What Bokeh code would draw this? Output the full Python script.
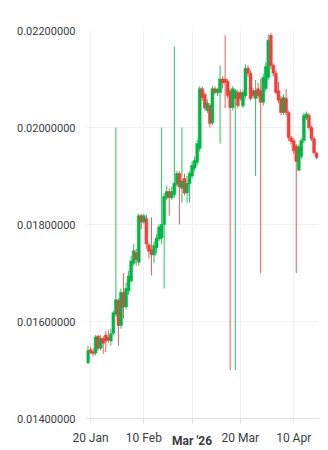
import pandas as pd
from bokeh.plotting import figure
from bokeh.models import ColumnDataSource, Range1d, FixedTicker, DatetimeAxis
from bokeh.embed import file_html
from bokeh.resources import INLINE

start_date = "2026-01-19"

opens = [
    0.01515, 0.01542, 0.01538, 0.01535, 0.01570, 0.01545, 0.01565, 0.01572, 0.01568, 0.01560,
    0.01576, 0.01615, 0.01643, 0.01592, 0.01660, 0.01630, 0.01663, 0.01684, 0.01720, 0.01742,
    0.01722, 0.01818, 0.01805, 0.01812, 0.01758, 0.01748, 0.01737, 0.01752, 0.01770, 0.01772,
    0.01800, 0.01855, 0.01868, 0.01855, 0.01862, 0.01883, 0.01905, 0.01875, 0.01895, 0.01865,
    0.01884, 0.01900, 0.01916, 0.01928, 0.01957, 0.02080, 0.02068, 0.02035, 0.02045, 0.02010,
    0.02080, 0.02072, 0.02072, 0.02100, 0.02100, 0.02095, 0.02076, 0.02041, 0.02060, 0.02072,
    0.02072, 0.02045, 0.02066, 0.02122, 0.02112, 0.02076, 0.02060, 0.02080, 0.02076, 0.02052,
    0.02080, 0.02103, 0.02190, 0.02128, 0.02112, 0.02076, 0.02060, 0.02031, 0.02060, 0.02031,
    0.01979, 0.01973, 0.01962, 0.01912, 0.01940, 0.01973, 0.02020, 0.02025, 0.02000, 0.01977,
    0.01947,
]
closes = [
    0.01540, 0.01536, 0.01534, 0.01568, 0.01545, 0.01565, 0.01555, 0.01560, 0.01562, 0.01575,
    0.01618, 0.01645, 0.01592, 0.01660, 0.01630, 0.01668, 0.01694, 0.01725, 0.01746, 0.01728,
    0.01818, 0.01805, 0.01818, 0.01760, 0.01745, 0.01738, 0.01757, 0.01772, 0.01795, 0.01800,
    0.01858, 0.01868, 0.01855, 0.01868, 0.01885, 0.01905, 0.01878, 0.01890, 0.01865, 0.01885,
    0.01905, 0.01922, 0.01932, 0.01967, 0.02080, 0.02062, 0.02040, 0.02050, 0.02008, 0.02080,
    0.02072, 0.02078, 0.02100, 0.02092, 0.02093, 0.02066, 0.02041, 0.02080, 0.02076, 0.02045,
    0.02060, 0.02072, 0.02122, 0.02112, 0.02060, 0.02066, 0.02076, 0.02066, 0.02052, 0.02103,
    0.02126, 0.02180, 0.02128, 0.02112, 0.02072, 0.02056, 0.02031, 0.02062, 0.02031, 0.01979,
    0.01971, 0.01952, 0.01930, 0.01960, 0.01973, 0.02025, 0.02028, 0.02000, 0.01977, 0.01948,
    0.01938,
]
highs = [
    0.01550, 0.01548, 0.01545, 0.01572, 0.01572, 0.01572, 0.01570, 0.01580, 0.01583, 0.01585,
    0.01622, 0.02000, 0.01648, 0.01668, 0.01700, 0.01680, 0.01705, 0.01735, 0.01760, 0.01750,
    0.01822, 0.01822, 0.01822, 0.01820, 0.01762, 0.01815, 0.01765, 0.01780, 0.01800, 0.02000,
    0.01865, 0.01880, 0.01875, 0.01878, 0.02167, 0.01910, 0.01910, 0.02000, 0.01905, 0.01900,
    0.01910, 0.01930, 0.01940, 0.01975, 0.02085, 0.02085, 0.02072, 0.02058, 0.02050, 0.02085,
    0.02085, 0.02082, 0.02128, 0.02105, 0.02190, 0.02100, 0.02080, 0.02085, 0.02080, 0.02078,
    0.02078, 0.02078, 0.02130, 0.02128, 0.02118, 0.02082, 0.02098, 0.02092, 0.02100, 0.02110,
    0.02135, 0.02192, 0.02195, 0.02132, 0.02118, 0.02094, 0.02065, 0.02068, 0.02080, 0.02035,
    0.01983, 0.01978, 0.01966, 0.01965, 0.01978, 0.02030, 0.02033, 0.02030, 0.02004, 0.01980,
    0.01950,
]
lows = [
    0.01512, 0.01533, 0.01528, 0.01530, 0.01540, 0.01540, 0.01533, 0.01537, 0.01555, 0.01550,
    0.01572, 0.01610, 0.01550, 0.01585, 0.01606, 0.01625, 0.01655, 0.01680, 0.01715, 0.01715,
    0.01715, 0.01790, 0.01800, 0.01750, 0.01730, 0.01695, 0.01720, 0.01740, 0.01765, 0.01760,
    0.01668, 0.01850, 0.01818, 0.01850, 0.01855, 0.01878, 0.01800, 0.01845, 0.01860, 0.01845,
    0.01845, 0.01895, 0.01910, 0.01922, 0.01950, 0.02055, 0.02035, 0.02030, 0.02000, 0.02005,
    0.02068, 0.02065, 0.01967, 0.02080, 0.02040, 0.02060, 0.01500, 0.02035, 0.01500, 0.02040,
    0.02055, 0.02040, 0.02060, 0.02105, 0.02055, 0.02060, 0.01900, 0.02060, 0.01700, 0.02045,
    0.02075, 0.02098, 0.02120, 0.02105, 0.02068, 0.02050, 0.02025, 0.02026, 0.02025, 0.01972,
    0.01965, 0.01945, 0.01700, 0.01911, 0.01935, 0.01968, 0.02015, 0.01995, 0.01972, 0.01945,
    0.01935,
]

y_ticks = [0.014, 0.016, 0.018, 0.020, 0.022]
x_tick_dates = ["2026-01-20", "2026-02-10", "2026-03-01", "2026-03-20", "2026-04-10"]
x_tick_labels = ["20 Jan", "10 Feb", "", "20 Mar", "10 Apr"]
bold_label_date = "2026-03-01"
bold_label_text = "Mar '26"

UP = "#00B746"
DOWN = "#EF403C"

dates = pd.date_range(start_date, periods=len(opens), freq="D")
df = pd.DataFrame({"date": dates, "open": opens, "close": closes, "high": highs, "low": lows})
df["top"] = df[["open", "close"]].max(axis=1)
df["bottom"] = df[["open", "close"]].min(axis=1)
df["color"] = [UP if c >= o else DOWN for o, c in zip(df["open"], df["close"])]
src = ColumnDataSource(df)

def ms(s):
    return pd.Timestamp(s).value // 10**6

day = 86400000
y0, y1 = 0.014, 0.022
p = figure(width=328, height=450, x_axis_type="datetime",
           output_backend="svg", toolbar_location=None,
           x_range=Range1d(ms("2026-01-18") + int(0.42 * day), ms("2026-04-19") + int(0.76 * day)),
           y_range=Range1d(y0, y1))
p.min_border_left = 86
p.min_border_right = 10
p.min_border_top = 30
p.min_border_bottom = 32
p.outline_line_color = None
p.background_fill_color = "white"

p.segment(x0="date", y0="low", x1="date", y1="high", color="color", line_width=1,
          line_alpha=0.85, source=src)
p.vbar(x="date", top="top", bottom="bottom", width=1.15 * day, fill_color="color",
       line_color="color", line_width=0.5, source=src)

tick_ms = [ms(d) for d in x_tick_dates]
p.xaxis.ticker = FixedTicker(ticks=tick_ms)
p.xaxis.major_label_overrides = {t: lab for t, lab in zip(tick_ms, x_tick_labels)}
p.xaxis.minor_tick_line_color = None
p.xaxis.axis_line_color = "#e0e0e0"
p.xaxis.major_tick_line_color = "#e0e0e0"
p.xaxis.major_tick_out = 5
p.xaxis.major_tick_in = 0
p.xaxis.major_label_standoff = 7
p.xaxis.major_label_text_font = "Roboto"
p.xaxis.major_label_text_font_size = "12px"
p.xaxis.major_label_text_color = "#373d3f"

# second axis carrying the bold month label, pulled up onto the same row
bold_ms = ms(bold_label_date)
bold_axis = DatetimeAxis(ticker=FixedTicker(ticks=[bold_ms]),
                         major_label_overrides={bold_ms: bold_label_text},
                         axis_line_color=None, major_tick_line_color=None,
                         minor_tick_line_color=None, major_tick_out=0, major_tick_in=0,
                         major_label_standoff=-14,
                         major_label_text_font="Roboto", major_label_text_font_size="12px",
                         major_label_text_font_style="bold", major_label_text_color="#373d3f")
p.add_layout(bold_axis, "below")

p.yaxis.ticker = FixedTicker(ticks=y_ticks)
p.yaxis.major_label_overrides = {t: f"{t:.8f}" for t in y_ticks}
p.yaxis.axis_line_color = None
p.yaxis.major_tick_line_color = None
p.yaxis.minor_tick_line_color = None
p.yaxis.major_tick_out = 0
p.yaxis.major_label_standoff = 11
p.yaxis.major_label_text_font = "Roboto"
p.yaxis.major_label_text_font_size = "11px"
p.yaxis.major_label_text_color = "#373d3f"

p.xgrid.grid_line_color = "#f0f0f0"
p.ygrid.grid_line_color = "#f0f0f0"

open("out.html", "w").write(file_html(p, INLINE))
